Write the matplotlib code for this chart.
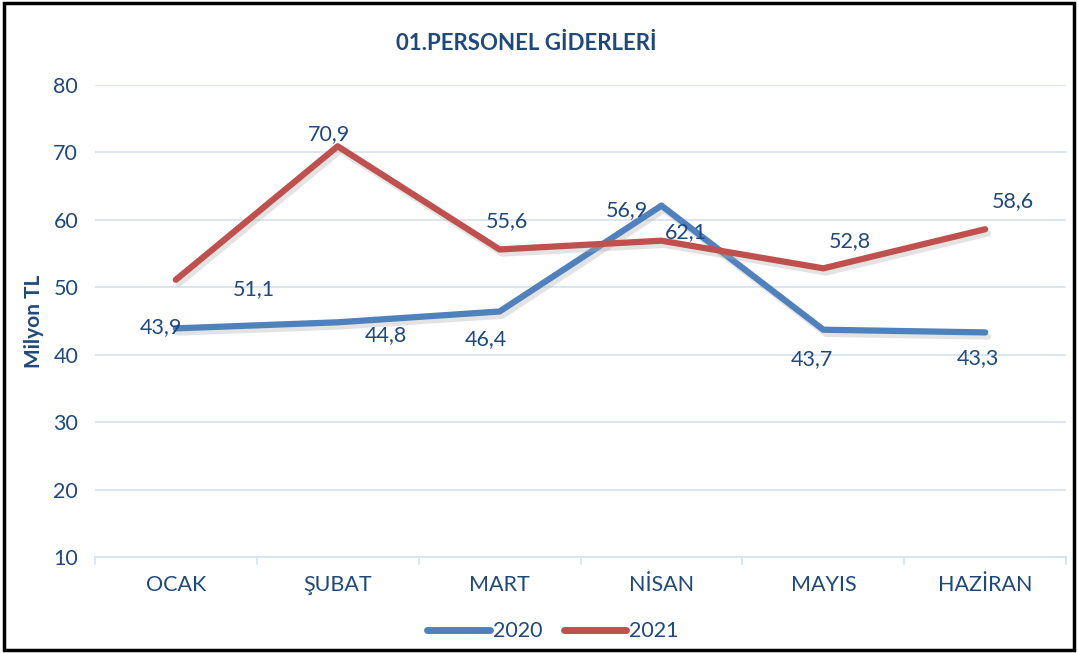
import matplotlib
matplotlib.use("Agg")
import matplotlib.pyplot as plt
import matplotlib.patheffects as pe
from matplotlib.patches import Rectangle

months = ["OCAK", "ŞUBAT", "MART", "NİSAN", "MAYIS", "HAZİRAN"]
y2020 = [43.9, 44.8, 46.4, 62.1, 43.7, 43.3]
y2021 = [51.1, 70.9, 55.6, 56.9, 52.8, 58.6]
labels2020 = ["43,9", "44,8", "46,4", "62,1", "43,7", "43,3"]
labels2021 = ["51,1", "70,9", "55,6", "56,9", "52,8", "58,6"]
# label offsets in pixels (dx, dy)
off2020 = [(-15, 1), (48, -13), (-14, -28), (24, -26), (-11, -29), (-7, -26)]
off2021 = [(78, -9), (-9, 12), (7, 28), (-35, 31), (27, 27), (28, 28)]

blue = "#4F81BD"
red = "#C0504D"
txt = "#1F497D"
plt.rcParams["font.family"] = ["Lato", "DejaVu Sans"]

fig = plt.figure(figsize=(10.78, 6.53), dpi=100)
ax = fig.add_axes([0.088, 0.147, 0.901, 0.723])
x = list(range(len(months)))

shadow = [pe.SimpleLineShadow(offset=(2, -3), shadow_color="#b0b0b0", alpha=0.35), pe.Normal()]
ax.plot(x, y2020, color=blue, lw=4.5, solid_capstyle="round", label="2020", path_effects=shadow, zorder=3)
ax.plot(x, y2021, color=red, lw=4.5, solid_capstyle="round", label="2021", path_effects=shadow, zorder=3)

for xi, yi, s, o in zip(x, y2020, labels2020, off2020):
    ax.annotate(s, (xi, yi), xytext=o, textcoords="offset pixels", ha="center", va="center",
                color=txt, fontsize=15.5, zorder=5)
for xi, yi, s, o in zip(x, y2021, labels2021, off2021):
    ax.annotate(s, (xi, yi), xytext=o, textcoords="offset pixels", ha="center", va="center",
                color=txt, fontsize=15.5, zorder=5)

ax.set_xlim(-0.5, 5.5)
ax.set_ylim(10, 80)
ax.set_yticks(range(10, 81, 10))
ax.set_xticks(x)
ax.set_xticklabels(months)
ax.grid(axis="y", color="#D6E2F0", lw=1.2)
ax.set_axisbelow(True)
for side in ["top", "right", "left"]:
    ax.spines[side].set_visible(False)
ax.spines["bottom"].set_color("#D6E2F0")
ax.spines["bottom"].set_linewidth(1.2)
ax.tick_params(axis="both", length=0, labelsize=15.5, colors=txt, pad=12)
ax.tick_params(axis="x", pad=13)
for b in range(7):
    ax.axvline(b - 0.5, ymin=-0.015, ymax=0, color="#D6E2F0", lw=1.2, clip_on=False)

ax.set_ylabel("Milyon TL", fontsize=15, fontweight="bold", color=txt)
ax.yaxis.set_label_coords(-0.052, 0.5)

fig.text(0.488, 0.934, "01.PERSONEL GİDERLERİ", ha="center", va="center",
         fontsize=16, fontweight="bold", color=txt)

leg = fig.legend(loc="center", bbox_to_anchor=(0.513, 0.033), ncol=2, frameon=False,
                 fontsize=15.5, handlelength=2.9, columnspacing=1.0, handletextpad=0.15,
                 labelcolor=txt)
for line in leg.get_lines():
    line.set_path_effects([])
    line.set_linewidth(5)

fig.patches.append(Rectangle((0.004, 0.004), 0.992, 0.992, transform=fig.transFigure,
                             fill=False, edgecolor="black", lw=2.5))

fig.savefig("out.png", dpi=100)
